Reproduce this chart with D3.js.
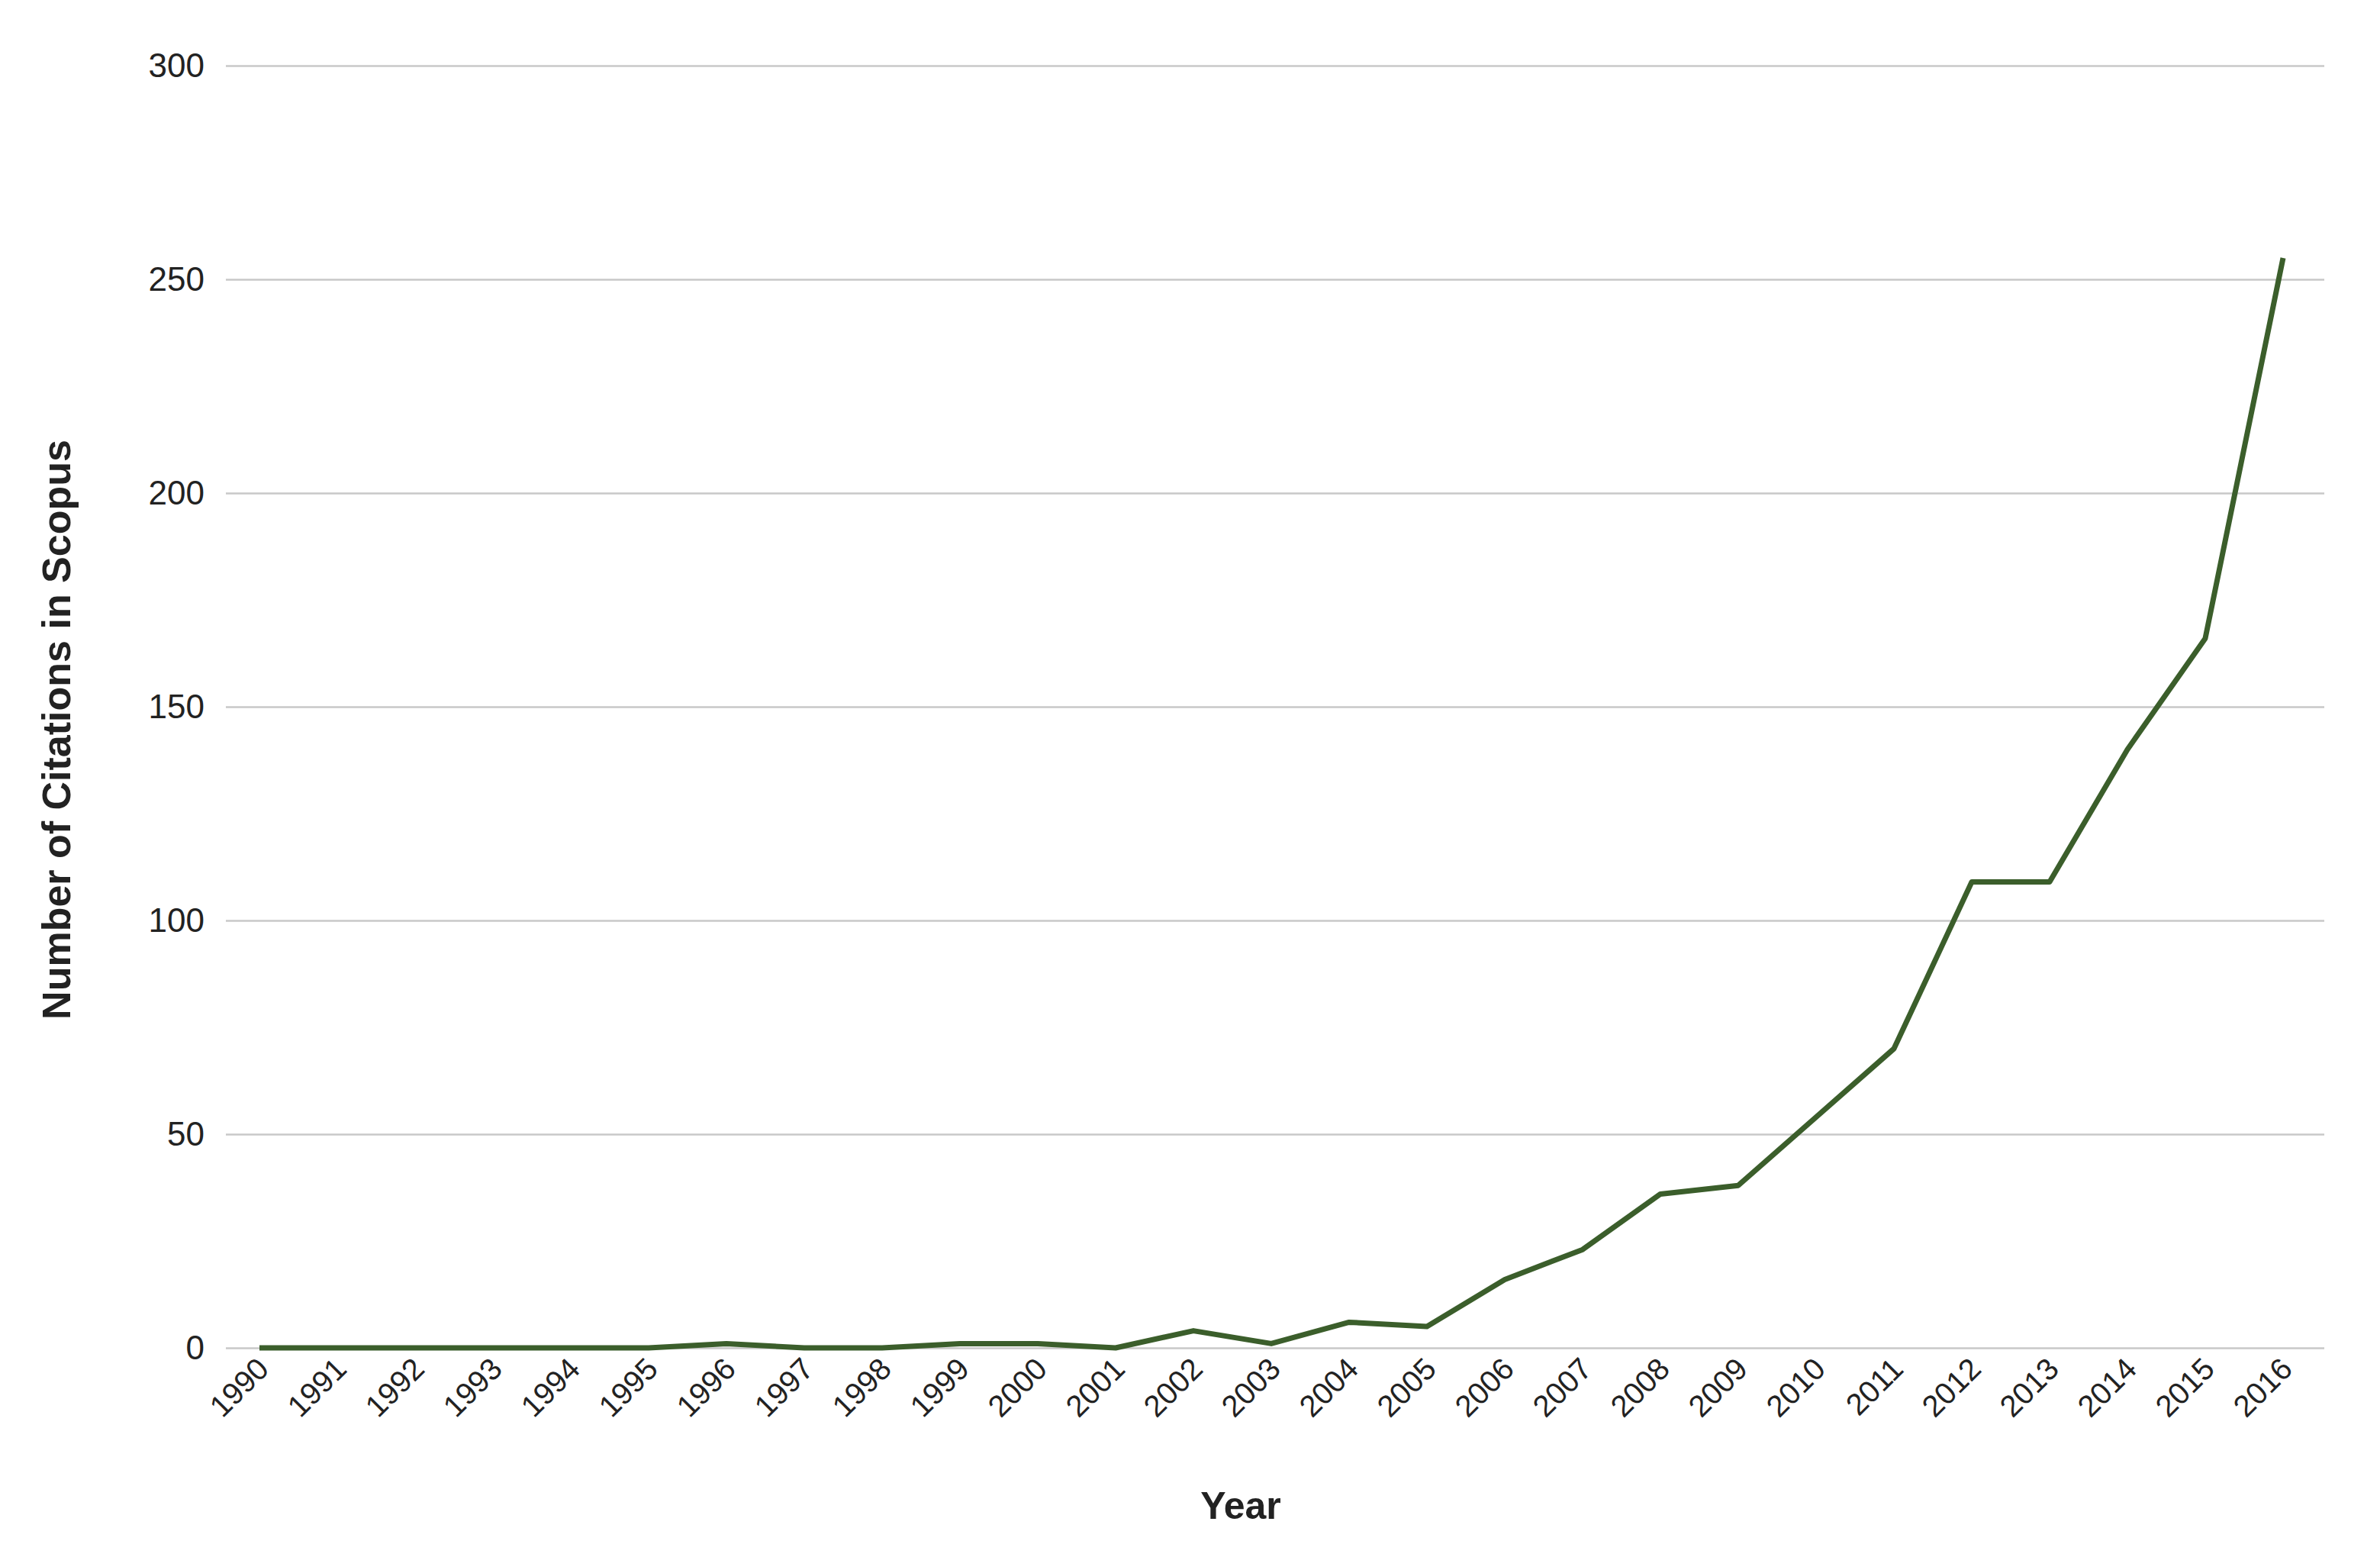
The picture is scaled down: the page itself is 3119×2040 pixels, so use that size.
<!DOCTYPE html>
<html><head><meta charset="utf-8">
<script src="https://cdn.jsdelivr.net/npm/d3@7"></script>
<style>body{margin:0;background:#fff}text{font-family:"Liberation Sans",Arial,sans-serif}</style>
</head><body><div id="chart"></div>
<script>
// data
var years = d3.range(1990, 2017);
var citations = [0,0,0,0,0,0,1,0,0,1,1,0,4,1,6,5,16,23,36,38,54,70,109,109,140,166,255];
var yTicks = [0,50,100,150,200,250,300];

var outerWidth = 3119, outerHeight = 2040;
var gridLeft = 296, gridRight = 3046;
var plotTop = 86, plotBottom = 1766;

var svg = d3.select("#chart").append("svg")
    .attr("width", outerWidth).attr("height", outerHeight);

var x = d3.scaleLinear().domain([1990, 2016]).range([340, 2992]);
var y = d3.scaleLinear().domain([0, 300]).range([plotBottom, plotTop]);

// gridlines + y labels
var yAxis = svg.append("g")
    .attr("transform", "translate(" + gridLeft + ",0)")
    .call(d3.axisLeft(y).tickValues(yTicks).tickSize(-(gridRight - gridLeft)).tickPadding(28));
yAxis.select(".domain").remove();
yAxis.selectAll("line").attr("stroke", "#c8c8c8").attr("stroke-width", 2.5);
yAxis.selectAll("text").attr("font-size", 44).attr("fill", "#222");

// x labels rotated
var xAxis = svg.append("g")
    .attr("transform", "translate(0," + plotBottom + ")")
    .call(d3.axisBottom(x).tickValues(years).tickFormat(d3.format("d")).tickSize(0));
xAxis.select(".domain").remove();
xAxis.selectAll("text")
    .attr("font-size", 40).attr("fill", "#222")
    .attr("dy", 0).attr("y", 0)
    .attr("transform", "translate(14,30)rotate(-45)")
    .style("text-anchor", "end");

// line
svg.append("path")
    .datum(citations)
    .attr("fill", "none")
    .attr("stroke", "#3b5e2b")
    .attr("stroke-width", 7)
    .attr("stroke-linejoin", "round")
    .attr("d", d3.line().x(function(d, i) { return x(years[i]); }).y(function(d) { return y(d); }));

// axis titles
svg.append("text")
    .attr("x", 1626).attr("y", 1990)
    .attr("text-anchor", "middle").attr("font-size", 50).attr("font-weight", "bold").attr("fill", "#222")
    .text("Year");
svg.append("text")
    .attr("transform", "translate(92," + ((plotTop + plotBottom) / 2 + 30) + ")rotate(-90)")
    .attr("text-anchor", "middle").attr("font-size", 52).attr("font-weight", "bold").attr("fill", "#222")
    .text("Number of Citations in Scopus");
</script></body></html>
